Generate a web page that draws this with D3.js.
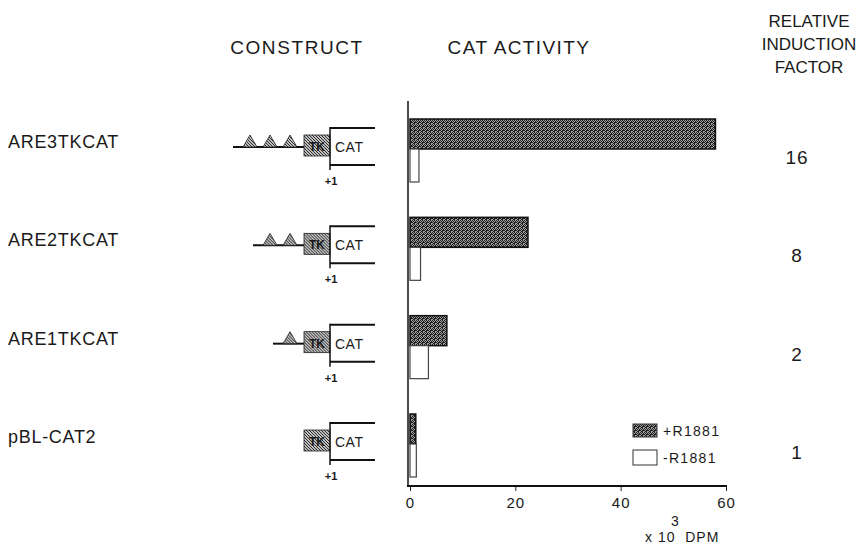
<!DOCTYPE html>
<html>
<head>
<meta charset="utf-8">
<script src="https://cdn.jsdelivr.net/npm/d3@7"></script>
<style>
  body { margin: 0; background: #fff; }
  svg { display: block; }
  text { font-family: "Liberation Sans", Arial, sans-serif; fill: #1a1a1a; }
</style>
</head>
<body>
<div id="chart"></div>
<script>
// data
var constructs = ["ARE3TKCAT", "ARE2TKCAT", "ARE1TKCAT", "pBL-CAT2"];
var plusR1881 = [58, 22.4, 7, 1.1];
var minusR1881 = [1.7, 2, 3.5, 1.2];
var induction = ["16", "8", "2", "1"];
var areCount = [3, 2, 1, 0];
var xTicks = [0, 20, 40, 60];

var w = 856, h = 548;

var svg = d3.select("#chart").append("svg")
    .attr("width", w)
    .attr("height", h);

// patterns -------------------------------------------------------------
var defs = svg.append("defs");
var stip = defs.append("pattern")
    .attr("id", "stipple")
    .attr("patternUnits", "userSpaceOnUse")
    .attr("width", 4).attr("height", 4);
stip.append("rect").attr("width", 4).attr("height", 4).attr("fill", "#a0a0a0");
// scattered dark dots, like the screen tone of the print
[[0,0],[2,0],[1,1],[3,1],[0,2],[3,2],[1,3],[2,3],[2,2]].forEach(function(p) {
  stip.append("rect").attr("x", p[0]).attr("y", p[1]).attr("width", 1).attr("height", 1)
      .attr("fill", "#1e1e1e");
});

var hatch = defs.append("pattern")
    .attr("id", "hatch")
    .attr("patternUnits", "userSpaceOnUse")
    .attr("width", 3).attr("height", 3);
hatch.append("rect").attr("width", 3).attr("height", 3).attr("fill", "#fff");
hatch.append("path").attr("d", "M0,0 L3,3 M-1,2 L1,4 M2,-1 L4,1")
    .attr("stroke", "#222").attr("stroke-width", 1.1);

// scales ---------------------------------------------------------------
var x = d3.scaleLinear().domain([0, 60]).range([410, 726]);
var y = d3.scalePoint().domain(constructs).range([149, 444]);

var barPlusH = 30, barMinusH = 33;

// headers
svg.append("text").attr("x", 297).attr("y", 54).attr("text-anchor", "middle")
    .style("font-size", "19px").style("letter-spacing", "1.6px").text("CONSTRUCT");
svg.append("text").attr("x", 519).attr("y", 54).attr("text-anchor", "middle")
    .style("font-size", "19px").style("letter-spacing", "1.4px").text("CAT ACTIVITY");
["RELATIVE", "INDUCTION", "FACTOR"].forEach(function(t, i) {
  svg.append("text").attr("x", 809).attr("y", 27 + i * 23).attr("text-anchor", "middle")
      .style("font-size", "17px").text(t);
});

// row labels and induction factors
svg.selectAll("text.rowlab").data(constructs).enter().append("text")
    .attr("class", "rowlab")
    .attr("x", 8)
    .attr("y", function(d) { return y(d) - 1; })
    .style("font-size", "18px")
    .style("letter-spacing", "0.7px")
    .text(function(d) { return d; });

svg.selectAll("text.ind").data(constructs).enter().append("text")
    .attr("class", "ind")
    .attr("x", 797)
    .attr("y", function(d) { return y(d) + 15; })
    .attr("text-anchor", "middle")
    .style("font-size", "19px")
    .style("letter-spacing", "1px")
    .text(function(d, i) { return induction[i]; });

// bars -----------------------------------------------------------------
svg.selectAll("rect.plus").data(constructs).enter().append("rect")
    .attr("class", "plus")
    .attr("x", x(0))
    .attr("y", function(d) { return y(d) - barPlusH; })
    .attr("width", function(d, i) { return x(plusR1881[i]) - x(0); })
    .attr("height", barPlusH)
    .attr("fill", "url(#stipple)")
    .attr("stroke", "#111").attr("stroke-width", 1.5);

svg.selectAll("rect.minus").data(constructs).enter().append("rect")
    .attr("class", "minus")
    .attr("x", x(0))
    .attr("y", function(d) { return y(d); })
    .attr("width", function(d, i) { return x(minusR1881[i]) - x(0); })
    .attr("height", barMinusH)
    .attr("fill", "#fff")
    .attr("stroke", "#444").attr("stroke-width", 1.2);

// axes -----------------------------------------------------------------
var xAxis = d3.axisBottom(x).tickValues(xTicks).tickSize(5).tickPadding(6);
var gx = svg.append("g").attr("transform", "translate(0,486)").call(xAxis);
gx.select(".domain").remove();
gx.selectAll("line").attr("stroke", "#222");
gx.selectAll("text").style("font-size", "15px").attr("fill", "#1a1a1a")
    .style("letter-spacing", "1px")
    .style("font-family", "\"Liberation Sans\", Arial, sans-serif");
svg.append("line").attr("x1", 407).attr("x2", 727).attr("y1", 486).attr("y2", 486)
    .attr("stroke", "#111").attr("stroke-width", 2);
svg.append("line").attr("x1", 408).attr("x2", 408).attr("y1", 101).attr("y2", 487)
    .attr("stroke", "#111").attr("stroke-width", 1.5);

svg.append("text").attr("x", 675).attr("y", 526).attr("text-anchor", "middle")
    .style("font-size", "14px").text("3");
svg.append("text").attr("x", 645).attr("y", 542)
    .style("font-size", "14px").style("letter-spacing", "1px")
    .attr("xml:space", "preserve").text("x 10  DPM");

// legend
svg.append("rect").attr("x", 633).attr("y", 424).attr("width", 24).attr("height", 13)
    .attr("fill", "url(#stipple)").attr("stroke", "#333");
svg.append("rect").attr("x", 633).attr("y", 450).attr("width", 24).attr("height", 15)
    .attr("fill", "#fff").attr("stroke", "#333");
svg.append("text").attr("x", 663).attr("y", 436).style("font-size", "14px")
    .style("letter-spacing", "1.3px").text("+R1881");
svg.append("text").attr("x", 663).attr("y", 463).style("font-size", "14px")
    .style("letter-spacing", "1.3px").text("-R1881");

// construct schematics ---------------------------------------------------
var startX = 330, boxL = 304, triW = 14, triH = 12, triStep = 20, triRight = 297;

var cg = svg.selectAll("g.construct").data(constructs).enter().append("g")
    .attr("class", "construct")
    .attr("transform", function(d) { return "translate(0," + (y(d) - 2) + ")"; });

cg.each(function(d, i) {
  var g = d3.select(this);
  var n = areCount[i];
  if (n > 0) {
    var lineStart = triRight - (n - 1) * triStep - triW - 10;
    g.append("line").attr("x1", lineStart).attr("x2", boxL).attr("y1", 0).attr("y2", 0)
        .attr("stroke", "#111").attr("stroke-width", 2);
    d3.range(n).forEach(function(k) {
      var r = triRight - k * triStep;
      g.append("path")
          .attr("d", "M" + (r - triW) + ",0 L" + (r - triW / 2) + "," + (-triH) + " L" + r + ",0 Z")
          .attr("fill", "url(#hatch)").attr("stroke", "#222").attr("stroke-width", 0.8);
    });
  }
  g.append("rect").attr("x", boxL).attr("y", -12).attr("width", startX - boxL).attr("height", 21)
      .attr("fill", "url(#hatch)").attr("stroke", "#222").attr("stroke-width", 0.8);
  g.append("text").attr("x", (boxL + startX) / 2).attr("y", 4).attr("text-anchor", "middle")
      .style("font-size", "12px").style("font-weight", "bold").text("TK");
  g.append("line").attr("x1", startX).attr("x2", startX).attr("y1", -20).attr("y2", 23)
      .attr("stroke", "#111").attr("stroke-width", 1.5);
  g.append("line").attr("x1", startX).attr("x2", 375).attr("y1", -19).attr("y2", -19)
      .attr("stroke", "#111").attr("stroke-width", 2);
  g.append("line").attr("x1", startX).attr("x2", 375).attr("y1", 18).attr("y2", 18)
      .attr("stroke", "#111").attr("stroke-width", 2);
  g.append("text").attr("x", 335).attr("y", 5)
      .style("font-size", "14px").style("letter-spacing", "0.5px").text("CAT");
  g.append("text").attr("x", 331).attr("y", 38).attr("text-anchor", "middle")
      .style("font-size", "11px").style("font-weight", "bold").text("+1");
});
</script>
</body>
</html>
